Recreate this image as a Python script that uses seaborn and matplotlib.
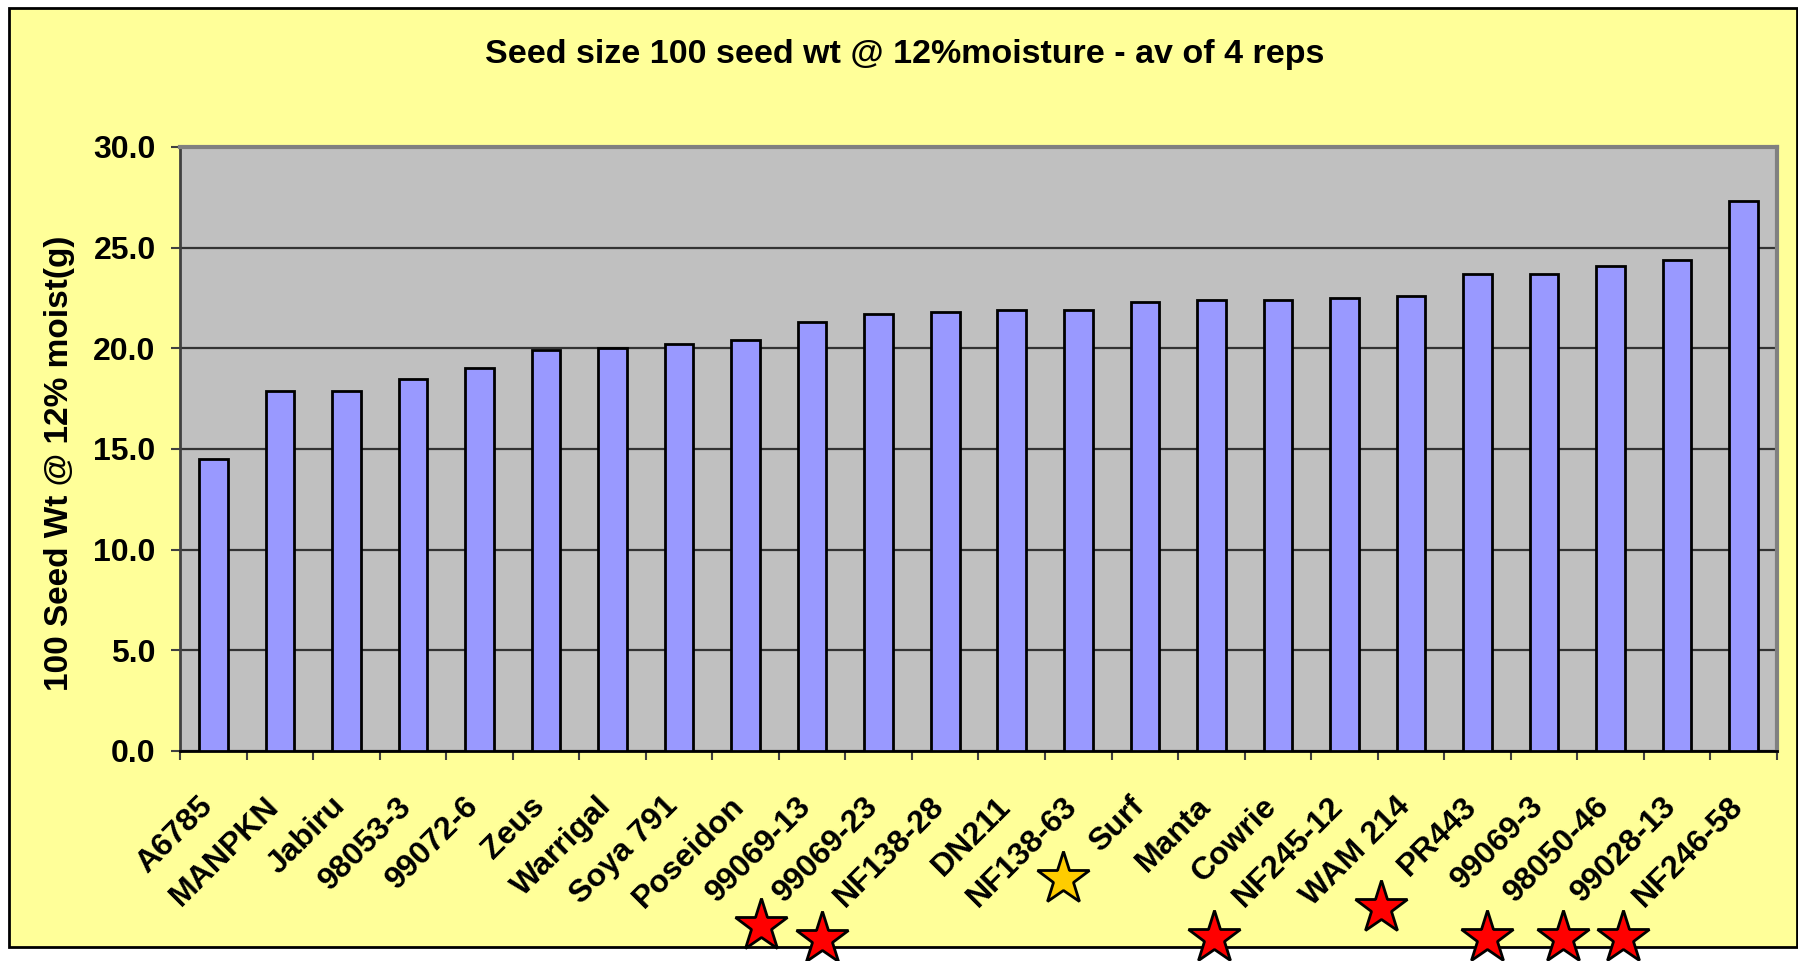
import matplotlib
matplotlib.use("Agg")
import matplotlib.pyplot as plt
import matplotlib.transforms as mtransforms
from matplotlib.patches import Rectangle
import seaborn as sns
import pandas as pd

# ---- data ----
varieties = ["A6785", "MANPKN", "Jabiru", "98053-3", "99072-6", "Zeus", "Warrigal",
             "Soya 791", "Poseidon", "99069-13", "99069-23", "NF138-28", "DN211",
             "NF138-63", "Surf", "Manta", "Cowrie", "NF245-12", "WAM 214", "PR443",
             "99069-3", "98050-46", "99028-13", "NF246-58"]
seed_wt = [14.5, 17.9, 17.9, 18.5, 19.0, 19.9, 20.0, 20.2, 20.4, 21.3, 21.7, 21.8,
           21.9, 21.9, 22.3, 22.4, 22.4, 22.5, 22.6, 23.7, 23.7, 24.1, 24.4, 27.3]
y_ticks = [0, 5, 10, 15, 20, 25, 30]
title_text = "Seed size 100 seed wt @ 12%moisture - av of 4 reps"
ylabel_text = "100 Seed Wt @ 12% moist(g)"

# highlighted varieties (star markers)
star_red = ["99069-23", "NF138-28", "NF245-12", "PR443", "98050-46", "99028-13", "NF246-58"]
star_gold = ["Surf"]

df = pd.DataFrame({"variety": varieties, "wt": seed_wt})

plt.rcParams["font.family"] = ["Liberation Sans", "DejaVu Sans"]
plt.rcParams["font.weight"] = "bold"

W, H = 1799, 961
fig = plt.figure(figsize=(W / 100, H / 100), dpi=100, facecolor="white")

# yellow chart area with black frame
fig.patches.append(Rectangle((9 / W, 1 - 947 / H), (1797 - 9) / W, (947 - 8) / H,
                             transform=fig.transFigure, facecolor="#FFFF99",
                             edgecolor="black", linewidth=2, zorder=-10))

L, R, T, B = 180, 1777, 147, 751
ax = fig.add_axes([L / W, 1 - B / H, (R - L) / W, (B - T) / H])
ax.set_facecolor("#C0C0C0")

sns.barplot(data=df, x="variety", y="wt", color="#9999FF", saturation=1,
            width=0.43, edgecolor="black", linewidth=2, ax=ax, zorder=3)

ax.set_xlim(-0.5, len(varieties) - 0.5)
ax.set_ylim(0, 30)
ax.set_yticks(y_ticks)
ax.set_yticklabels([f"{v:.1f}" for v in y_ticks], fontsize=23, fontweight="bold")
ax.yaxis.grid(True, color="#333333", linewidth=1.6, zorder=1)
ax.set_axisbelow(True)
ax.set_xlabel("")
ax.set_ylabel("")

# spines
for s in ["top", "right"]:
    ax.spines[s].set_color("#808080")
    ax.spines[s].set_linewidth(3)
ax.spines["left"].set_color("#404040")
ax.spines["left"].set_linewidth(2)
ax.spines["bottom"].set_color("black")
ax.spines["bottom"].set_linewidth(2)

ax.tick_params(axis="y", direction="out", length=6.5, width=1.5, color="#404040", pad=11)
# category boundary ticks
ax.set_xticks([i - 0.5 for i in range(len(varieties) + 1)], minor=True)
ax.tick_params(axis="x", which="minor", direction="out", length=6.5, width=1.5, color="#404040")
ax.tick_params(axis="x", which="major", length=0, pad=29)
ax.set_xticks(range(len(varieties)))
ax.set_xticklabels(varieties, rotation=45, ha="right", va="top",
                   rotation_mode="anchor", fontsize=23, fontweight="bold")
offset = mtransforms.ScaledTranslation(-16 / 100, 0, fig.dpi_scale_trans)
for lab in ax.get_xticklabels():
    lab.set_transform(lab.get_transform() + offset)

# title and y label
fig.text(905 / W, 1 - 63 / H, title_text, ha="center", va="baseline",
         fontsize=24.5, fontweight="bold")
fig.text(60 / W, 1 - 463 / H, ylabel_text, ha="center", va="center",
         rotation=90, fontsize=24, fontweight="bold")

# star markers below labels (annotation positions: offset in categories, y in pixels)
star_offsets = {"99069-23": (-1.77, 926), "NF138-28": (-1.85, 939), "Surf": (-1.23, 879),
                "NF245-12": (-1.96, 938), "PR443": (-1.45, 908), "98050-46": (-1.86, 938),
                "99028-13": (-1.72, 938), "NF246-58": (-1.81, 938)}
btrans = mtransforms.blended_transform_factory(ax.transData, fig.transFigure)
for name in star_red + star_gold:
    dx, ypix = star_offsets[name]
    col = "#FFCC00" if name in star_gold else "#FF0000"
    ax.plot([varieties.index(name) + dx], [1 - ypix / H], marker="*", markersize=40,
            markerfacecolor=col, markeredgecolor="black", markeredgewidth=2,
            transform=btrans, clip_on=False, zorder=10, linestyle="none")

fig.savefig("out.png", dpi=100, facecolor="white")
